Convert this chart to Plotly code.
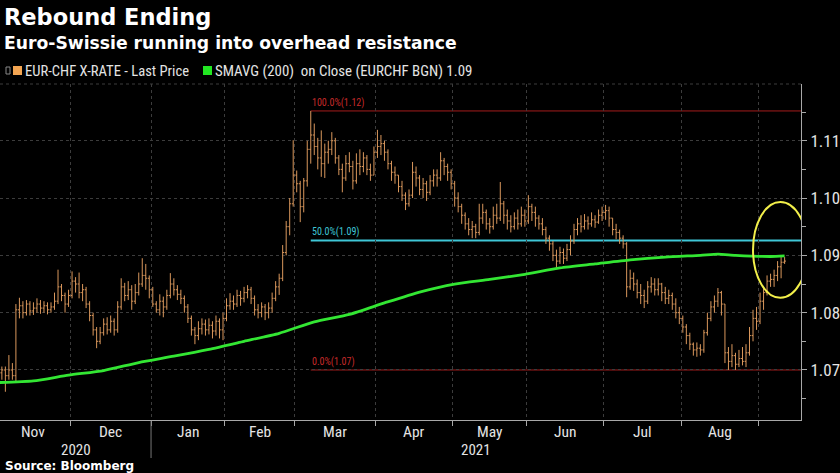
import plotly.graph_objects as go
import pandas as pd

# ---------------- data ----------------
title = "Rebound Ending"
subtitle = "Euro-Swissie running into overhead resistance"
price_name = "EUR-CHF X-RATE - Last Price"
sma_name = "SMAVG (200)\u00a0\u00a0on Close (EURCHF BGN)"
source = "Source: Bloomberg"
start_date = "2020-11-02"

opens = [
    1.0685, 1.0695, 1.0700, 1.0690, 1.0700, 1.0690, 1.0805, 1.0812, 1.0800, 1.0815,
    1.0803, 1.0808, 1.0815, 1.0808, 1.0812, 1.0805, 1.0810, 1.0820, 1.0845, 1.0830,
    1.0815, 1.0830, 1.0855, 1.0850, 1.0835, 1.0840, 1.0815, 1.0795, 1.0770, 1.0750,
    1.0765, 1.0780, 1.0770, 1.0785, 1.0770, 1.0810, 1.0845, 1.0830, 1.0840, 1.0820,
    1.0835, 1.0850, 1.0865, 1.0860, 1.0840, 1.0815, 1.0805, 1.0820, 1.0810, 1.0830,
    1.0850, 1.0840, 1.0832, 1.0825, 1.0810, 1.0790, 1.0770, 1.0760, 1.0772, 1.0780,
    1.0770, 1.0778, 1.0768, 1.0785, 1.0770, 1.0790, 1.0812, 1.0820, 1.0815, 1.0830,
    1.0825, 1.0835, 1.0840, 1.0825, 1.0805, 1.0800, 1.0810, 1.0800, 1.0808, 1.0825,
    1.0845, 1.0860, 1.0905, 1.0950, 1.0990, 1.1040, 1.1025, 1.0985, 1.1030, 1.1085,
    1.1110, 1.1090, 1.1070, 1.1060, 1.1080, 1.1085, 1.1100, 1.1070, 1.1050, 1.1035,
    1.1060, 1.1055, 1.1030, 1.1060, 1.1055, 1.1070, 1.1050, 1.1040, 1.1080, 1.1090,
    1.1095, 1.1080, 1.1060, 1.1045, 1.1040, 1.1020, 1.1005, 1.0990, 1.1005, 1.1045,
    1.1035, 1.1015, 1.1025, 1.1010, 1.1030, 1.1040, 1.1035, 1.1065, 1.1055, 1.1045,
    1.1025, 1.1000, 1.0985, 1.0970, 1.0955, 1.0945, 1.0950, 1.0940, 1.0965, 1.0975,
    1.0955, 1.0950, 1.0970, 1.0965, 1.0990, 1.0970, 1.0960, 1.0950, 1.0965, 1.0955,
    1.0970, 1.0960, 1.0985, 1.0975, 1.0965, 1.0955, 1.0945, 1.0930, 1.0920, 1.0900,
    1.0890, 1.0905, 1.0895, 1.0910, 1.0925, 1.0945, 1.0955, 1.0950, 1.0960, 1.0955,
    1.0962, 1.0958, 1.0970, 1.0975, 1.0978, 1.0965, 1.0945, 1.0940, 1.0930, 1.0920,
    1.0845, 1.0860, 1.0850, 1.0835, 1.0830, 1.0820, 1.0845, 1.0850, 1.0840, 1.0850,
    1.0835, 1.0825, 1.0830, 1.0815, 1.0800, 1.0790, 1.0775, 1.0760, 1.0745, 1.0735,
    1.0738, 1.0735, 1.0765, 1.0790, 1.0810, 1.0820, 1.0835, 1.0815, 1.0730, 1.0715,
    1.0725, 1.0710, 1.0720, 1.0715, 1.0730, 1.0760, 1.0790, 1.0785, 1.0820, 1.0835,
    1.0855, 1.0858, 1.0865, 1.0880, 1.0888,
]
highs = [
    1.0705, 1.0706, 1.0706, 1.0726, 1.0712, 1.0815, 1.0826, 1.0820, 1.0822, 1.0820,
    1.0818, 1.0825, 1.0822, 1.0820, 1.0818, 1.0818, 1.0835, 1.0875, 1.0850, 1.0835,
    1.0840, 1.0872, 1.0862, 1.0870, 1.0850, 1.0845, 1.0820, 1.0800, 1.0775, 1.0775,
    1.0790, 1.0792, 1.0795, 1.0790, 1.0820, 1.0860, 1.0852, 1.0855, 1.0848, 1.0850,
    1.0870, 1.0895, 1.0885, 1.0865, 1.0845, 1.0820, 1.0832, 1.0828, 1.0840, 1.0869,
    1.0860, 1.0848, 1.0840, 1.0830, 1.0815, 1.0795, 1.0775, 1.0785, 1.0790, 1.0788,
    1.0790, 1.0785, 1.0795, 1.0790, 1.0800, 1.0825, 1.0834, 1.0830, 1.0840, 1.0838,
    1.0845, 1.0848, 1.0845, 1.0830, 1.0815, 1.0818, 1.0815, 1.0818, 1.0835, 1.0855,
    1.0868, 1.0918, 1.0960, 1.1000, 1.1101, 1.1048, 1.1030, 1.1035, 1.1100, 1.1152,
    1.1130, 1.1105, 1.1118, 1.1095, 1.1100, 1.1115, 1.1105, 1.1075, 1.1060, 1.1075,
    1.1080, 1.1065, 1.1078, 1.1085, 1.1080, 1.1075, 1.1060, 1.1090, 1.1119, 1.1110,
    1.1100, 1.1085, 1.1065, 1.1055, 1.1040, 1.1030, 1.1010, 1.1015, 1.1063, 1.1055,
    1.1040, 1.1035, 1.1030, 1.1040, 1.1050, 1.1050, 1.1080, 1.1070, 1.1060, 1.1050,
    1.1030, 1.1010, 1.0990, 1.0975, 1.0965, 1.0960, 1.0955, 1.0990, 1.0990, 1.0980,
    1.0965, 1.0985, 1.0990, 1.1028, 1.0995, 1.0980, 1.0970, 1.0975, 1.0980, 1.0985,
    1.0980, 1.1005, 1.0990, 1.0985, 1.0970, 1.0965, 1.0950, 1.0935, 1.0925, 1.0910,
    1.0915, 1.0912, 1.0920, 1.0935, 1.0955, 1.0965, 1.0970, 1.0972, 1.0968, 1.0975,
    1.0970, 1.0980, 1.0985, 1.0988, 1.0985, 1.0965, 1.0955, 1.0945, 1.0935, 1.0923,
    1.0875, 1.0870, 1.0858, 1.0850, 1.0840, 1.0855, 1.0862, 1.0860, 1.0860, 1.0852,
    1.0845, 1.0840, 1.0835, 1.0825, 1.0810, 1.0795, 1.0780, 1.0765, 1.0748, 1.0748,
    1.0745, 1.0770, 1.0800, 1.0820, 1.0830, 1.0843, 1.0838, 1.0815, 1.0740, 1.0745,
    1.0730, 1.0735, 1.0740, 1.0745, 1.0775, 1.0805, 1.0810, 1.0835, 1.0843, 1.0865,
    1.0868, 1.0875, 1.0890, 1.0897, 1.0897,
]
lows = [
    1.0680, 1.0683, 1.0662, 1.0683, 1.0683, 1.0680, 1.0790, 1.0790, 1.0795, 1.0795,
    1.0796, 1.0800, 1.0798, 1.0800, 1.0797, 1.0800, 1.0805, 1.0815, 1.0820, 1.0800,
    1.0810, 1.0825, 1.0835, 1.0825, 1.0820, 1.0808, 1.0785, 1.0760, 1.0738, 1.0745,
    1.0760, 1.0762, 1.0765, 1.0760, 1.0765, 1.0805, 1.0820, 1.0822, 1.0805, 1.0815,
    1.0830, 1.0845, 1.0840, 1.0825, 1.0810, 1.0800, 1.0795, 1.0792, 1.0805, 1.0825,
    1.0830, 1.0822, 1.0815, 1.0800, 1.0782, 1.0760, 1.0745, 1.0752, 1.0762, 1.0760,
    1.0762, 1.0755, 1.0760, 1.0755, 1.0752, 1.0785, 1.0805, 1.0805, 1.0810, 1.0812,
    1.0818, 1.0825, 1.0815, 1.0795, 1.0790, 1.0792, 1.0787, 1.0790, 1.0800, 1.0820,
    1.0831, 1.0855, 1.0900, 1.0935, 1.0985, 1.1010, 1.0958, 1.0975, 1.1020, 1.1060,
    1.1075, 1.1050, 1.1037, 1.1035, 1.1060, 1.1075, 1.1060, 1.1040, 1.1010, 1.1030,
    1.1045, 1.1015, 1.1025, 1.1040, 1.1045, 1.1040, 1.1030, 1.1040, 1.1070, 1.1075,
    1.1065, 1.1050, 1.1030, 1.1025, 1.1010, 1.0995, 1.0979, 1.0985, 1.1000, 1.1020,
    1.1005, 1.1000, 1.0995, 1.1005, 1.1020, 1.1020, 1.1030, 1.1040, 1.1030, 1.1015,
    1.0985, 1.0975, 1.0955, 1.0945, 1.0935, 1.0930, 1.0930, 1.0935, 1.0955, 1.0945,
    1.0938, 1.0945, 1.0955, 1.0960, 1.0955, 1.0945, 1.0940, 1.0945, 1.0945, 1.0950,
    1.0950, 1.0955, 1.0960, 1.0950, 1.0945, 1.0935, 1.0920, 1.0908, 1.0890, 1.0878,
    1.0885, 1.0885, 1.0890, 1.0900, 1.0920, 1.0935, 1.0940, 1.0945, 1.0945, 1.0950,
    1.0948, 1.0955, 1.0960, 1.0962, 1.0950, 1.0935, 1.0928, 1.0920, 1.0912, 1.0827,
    1.0840, 1.0838, 1.0825, 1.0815, 1.0808, 1.0815, 1.0835, 1.0830, 1.0830, 1.0820,
    1.0815, 1.0815, 1.0805, 1.0790, 1.0780, 1.0765, 1.0745, 1.0735, 1.0725, 1.0723,
    1.0725, 1.0730, 1.0760, 1.0785, 1.0800, 1.0810, 1.0795, 1.0712, 1.0700, 1.0705,
    1.0700, 1.0705, 1.0708, 1.0705, 1.0725, 1.0750, 1.0770, 1.0780, 1.0805, 1.0830,
    1.0845, 1.0845, 1.0855, 1.0860, 1.0885,
]
closes = [
    1.0695, 1.0700, 1.0690, 1.0700, 1.0690, 1.0805, 1.0812, 1.0800, 1.0815, 1.0803,
    1.0808, 1.0815, 1.0808, 1.0812, 1.0805, 1.0810, 1.0820, 1.0845, 1.0830, 1.0815,
    1.0830, 1.0855, 1.0850, 1.0835, 1.0840, 1.0815, 1.0795, 1.0770, 1.0750, 1.0765,
    1.0780, 1.0770, 1.0785, 1.0770, 1.0810, 1.0845, 1.0830, 1.0840, 1.0820, 1.0835,
    1.0850, 1.0865, 1.0860, 1.0840, 1.0815, 1.0805, 1.0820, 1.0810, 1.0830, 1.0850,
    1.0840, 1.0832, 1.0825, 1.0810, 1.0790, 1.0770, 1.0760, 1.0772, 1.0780, 1.0770,
    1.0778, 1.0768, 1.0785, 1.0770, 1.0790, 1.0812, 1.0820, 1.0815, 1.0830, 1.0825,
    1.0835, 1.0840, 1.0825, 1.0805, 1.0800, 1.0810, 1.0800, 1.0808, 1.0825, 1.0845,
    1.0860, 1.0905, 1.0950, 1.0990, 1.1040, 1.1025, 1.0985, 1.1030, 1.1085, 1.1110,
    1.1090, 1.1070, 1.1060, 1.1080, 1.1085, 1.1100, 1.1070, 1.1050, 1.1035, 1.1060,
    1.1055, 1.1030, 1.1060, 1.1055, 1.1070, 1.1050, 1.1040, 1.1080, 1.1090, 1.1095,
    1.1080, 1.1060, 1.1045, 1.1040, 1.1020, 1.1005, 1.0990, 1.1005, 1.1045, 1.1035,
    1.1015, 1.1025, 1.1010, 1.1030, 1.1040, 1.1035, 1.1065, 1.1055, 1.1045, 1.1025,
    1.1000, 1.0985, 1.0970, 1.0955, 1.0945, 1.0950, 1.0940, 1.0965, 1.0975, 1.0955,
    1.0950, 1.0970, 1.0965, 1.0990, 1.0970, 1.0960, 1.0950, 1.0965, 1.0955, 1.0970,
    1.0960, 1.0985, 1.0975, 1.0965, 1.0955, 1.0945, 1.0930, 1.0920, 1.0900, 1.0890,
    1.0905, 1.0895, 1.0910, 1.0925, 1.0945, 1.0955, 1.0950, 1.0960, 1.0955, 1.0962,
    1.0958, 1.0970, 1.0975, 1.0978, 1.0965, 1.0945, 1.0940, 1.0930, 1.0920, 1.0845,
    1.0860, 1.0850, 1.0835, 1.0830, 1.0820, 1.0845, 1.0850, 1.0840, 1.0850, 1.0835,
    1.0825, 1.0830, 1.0815, 1.0800, 1.0790, 1.0775, 1.0760, 1.0745, 1.0735, 1.0738,
    1.0735, 1.0765, 1.0790, 1.0810, 1.0820, 1.0835, 1.0815, 1.0730, 1.0715, 1.0725,
    1.0710, 1.0720, 1.0715, 1.0730, 1.0760, 1.0790, 1.0785, 1.0820, 1.0835, 1.0855,
    1.0858, 1.0865, 1.0880, 1.0888, 1.0890,
]
# 200-day simple moving average, read every 10 trading days (bar index)
sma_index = [0, 10, 20, 30, 40, 50, 60, 70, 80, 90, 100, 110, 120, 130, 140,
             150, 160, 170, 180, 190, 200, 205, 210, 220, 224]
sma_values = [1.0678, 1.0681, 1.0691, 1.0699, 1.0713, 1.0724, 1.0736, 1.0750,
              1.0764, 1.0784, 1.0797, 1.0817, 1.0836, 1.0850, 1.0858, 1.0867,
              1.0878, 1.0885, 1.0892, 1.0897, 1.0900, 1.0902, 1.0900, 1.0898, 1.0899]
label_months = ["2020-11", "2020-12", "2021-01", "2021-02", "2021-03",
                "2021-04", "2021-05", "2021-06", "2021-07", "2021-08"]
y_tick_start, y_tick_step = 1.07, 0.01

# ---------------- styles ----------------
BG = "#000000"
BAR = "#d9975c"
GREEN = "#33e633"
GRID = "#3c3c3c"
AXIS = "#a8a8a8"
TXT = "#e4e4e4"
RED_LINE = "#a51c1c"
RED_TXT = "#c42a2a"
CYAN = "#3fc6d6"
NARROW = "Liberation Sans Narrow, Roboto Condensed, DejaVu Sans Condensed, Roboto, sans-serif"
BOLD = "DejaVu Sans, Open Sans, sans-serif"

W, H = 840, 473
ML, MR, MT, MB = 0, 39, 84, 53
PW, PH = W - ML - MR, H - MT - MB
X_RANGE = [0.47, 228.67]
Y_RANGE = [1.06127, 1.11990]


def px_x(px):
    return (px - ML) / PW


def px_y(py):
    return (H - MB - py) / PH


dates = pd.bdate_range(start=start_date, periods=len(closes))
idx = list(range(len(closes)))
periods = dates.to_period("M")
pos = pd.Series(idx, index=periods)
firsts = pos.groupby(level=0).min()
lasts = pos.groupby(level=0).max()
bounds = [f - 0.5 for f in firsts.values]

fig = go.Figure()
fig.add_trace(go.Ohlc(
    x=idx, open=opens, high=highs, low=lows, close=closes,
    increasing=dict(line=dict(color=BAR, width=1)),
    decreasing=dict(line=dict(color=BAR, width=1)),
    tickwidth=0.4, showlegend=False, hoverinfo="skip",
))
fig.add_trace(go.Scatter(
    x=sma_index, y=sma_values, mode="lines",
    line=dict(color=GREEN, width=2.8, shape="spline", smoothing=0.6),
    showlegend=False, hoverinfo="skip",
))

# Fibonacci retracement from March high to August low
hi_i = max(idx, key=lambda i: highs[i])
hi = highs[hi_i]
lo = min(lows[hi_i:])
levels = [(1.0, hi, RED_LINE, RED_TXT, 1), (0.5, (hi + lo) / 2, CYAN, CYAN, 2), (0.0, lo, RED_LINE, RED_TXT, 1)]
shapes = []
annotations = []
for frac, lvl, lc, tc, lw in levels:
    shapes.append(dict(type="line", xref="x", yref="y", x0=hi_i, x1=X_RANGE[1] + 5,
                       y0=lvl, y1=lvl, line=dict(color=lc, width=lw), layer="below"))
    annotations.append(dict(x=hi_i, y=lvl, xref="x", yref="y", xanchor="left", yanchor="bottom",
                            text=f"{frac*100:.1f}%({lvl:.2f})", showarrow=False,
                            font=dict(family=NARROW, size=10, color=tc), borderpad=0, yshift=1))

# highlight ellipse
shapes.append(dict(type="circle", xref="x", yref="y", x0=215.0, x1=230.6, y0=1.0826, y1=1.0993,
                   line=dict(color="#f2ef4a", width=2)))

# top dotted line
shapes.append(dict(type="line", xref="paper", yref="paper", x0=0, x1=1, y0=1, y1=1,
                   line=dict(color=GRID, width=1, dash="dot")))

# month labels
for m in label_months:
    p = pd.Period(m, "M")
    c = (firsts[p] - 0.5 + lasts[p] + 0.5) / 2
    annotations.append(dict(x=c, y=px_y(432), xref="x", yref="paper", text=p.strftime("%b"),
                            showarrow=False, xanchor="center", yanchor="middle", borderpad=0,
                            font=dict(family=NARROW, size=15.5, color=TXT)))
# year labels
jan_b = firsts[pd.Period("2021-01", "M")] - 0.5
for yr, c in (("2020", (X_RANGE[0] + jan_b) / 2), ("2021", (jan_b + X_RANGE[1]) / 2)):
    annotations.append(dict(x=c, y=px_y(450), xref="x", yref="paper", text=yr, showarrow=False,
                            xanchor="center", yanchor="middle", borderpad=0,
                            font=dict(family=NARROW, size=15, color=TXT)))
shapes.append(dict(type="line", xref="x", yref="paper", x0=jan_b, x1=jan_b,
                   y0=px_y(421), y1=px_y(458), line=dict(color="#777777", width=1)))

# titles
annotations.append(dict(x=px_x(3), y=px_y(17), xref="paper", yref="paper", xanchor="left",
                        yanchor="middle", text=f"<b>{title}</b>", showarrow=False, borderpad=0,
                        font=dict(family=BOLD, size=22.5, color="#ffffff")))
annotations.append(dict(x=px_x(3), y=px_y(43), xref="paper", yref="paper", xanchor="left",
                        yanchor="middle", text=f"<b>{subtitle}</b>", showarrow=False, borderpad=0,
                        font=dict(family=BOLD, size=17.2, color="#ffffff")))
annotations.append(dict(x=px_x(4), y=px_y(466), xref="paper", yref="paper", xanchor="left",
                        yanchor="middle", text=f"<b>{source}</b>", showarrow=False, borderpad=0,
                        font=dict(family=BOLD, size=12, color="#ffffff")))

# legend
shapes.append(dict(type="rect", xref="paper", yref="paper", x0=px_x(6), x1=px_x(10),
                   y0=px_y(74), y1=px_y(67), line=dict(color="#888888", width=1)))
shapes.append(dict(type="rect", xref="paper", yref="paper", x0=px_x(13), x1=px_x(22),
                   y0=px_y(75), y1=px_y(66), line=dict(width=0), fillcolor="#f3a552"))
annotations.append(dict(x=px_x(24), y=px_y(70.5), xref="paper", yref="paper", xanchor="left",
                        yanchor="middle", text=price_name, showarrow=False, borderpad=0,
                        font=dict(family=NARROW, size=14.6, color=TXT)))
shapes.append(dict(type="rect", xref="paper", yref="paper", x0=px_x(203), x1=px_x(212),
                   y0=px_y(75), y1=px_y(66), line=dict(width=0), fillcolor="#22e622"))
annotations.append(dict(x=px_x(214), y=px_y(70.5), xref="paper", yref="paper", xanchor="left",
                        yanchor="middle", text=f"{sma_name} {sma_values[-1]:.2f}", showarrow=False,
                        borderpad=0, font=dict(family=NARROW, size=14.9, color=TXT)))

fig.update_layout(
    width=W, height=H, margin=dict(l=ML, r=MR, t=MT, b=MB),
    paper_bgcolor=BG, plot_bgcolor=BG, showlegend=False,
    shapes=shapes, annotations=annotations,
    xaxis=dict(range=X_RANGE, tickmode="array", tickvals=bounds, ticktext=[""] * len(bounds),
               ticks="outside", ticklen=5, tickcolor=AXIS, showgrid=True, gridcolor=GRID,
               griddash="dot", gridwidth=1, showline=True, linecolor=AXIS, linewidth=1,
               zeroline=False, rangeslider=dict(visible=False), fixedrange=True),
    yaxis=dict(range=Y_RANGE, side="right", tickmode="linear", tick0=y_tick_start, dtick=y_tick_step,
               tickformat=".2f", ticks="outside", ticklen=5, tickcolor=AXIS,
               tickfont=dict(family=NARROW, size=17, color=TXT),
               showgrid=True, gridcolor=GRID, griddash="dot", gridwidth=1,
               showline=True, linecolor=AXIS, linewidth=1, zeroline=False,
               minor=dict(dtick=y_tick_step / 2, tick0=y_tick_start, ticks="outside", ticklen=4,
                          tickcolor=AXIS, showgrid=False),
               fixedrange=True),
)

fig.write_html("out.html", config={"displayModeBar": False})
